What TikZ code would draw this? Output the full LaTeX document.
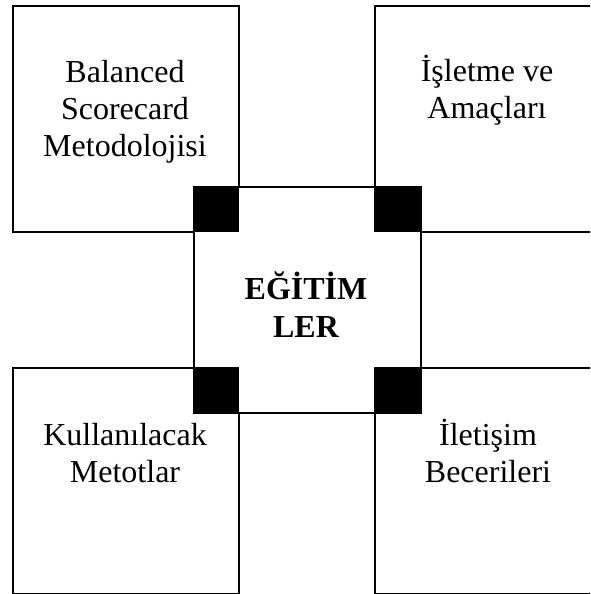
\documentclass[tikz,border=0pt]{standalone}
\usepackage{fontspec}
\setmainfont{Liberation Serif}
\begin{document}
\begin{tikzpicture}[x=1pt,y=-1pt,
  box/.style={draw, line width=1.8pt, minimum width=226pt, minimum height=226pt, inner sep=0pt, anchor=north west},
  corner/.style={fill=black, minimum width=46pt, minimum height=46pt, inner sep=0pt, anchor=north west},
  lbl/.style={align=center, inner sep=0pt, font=\fontsize{32}{37}\selectfont, anchor=base}]
\useasboundingbox (0,0) rectangle (590,594);
\clip (0,0) rectangle (590,594);
\node[box] (tl) at (12,5) {};
\node[box] (tr) at (374,5) {};
\node[box] (bl) at (12,367) {};
\node[box] (br) at (374,367) {};
\node[box, fill=white, minimum width=227pt] (c) at (193,186) {};
\node[corner] (ctl) at (193,186) {};
\node[corner] (ctr) at (374,186) {};
\node[corner] (cbl) at (193,367) {};
\node[corner] (cbr) at (374,367) {};
\node[lbl] (ttl) at (125,156) {Balanced\\Scorecard\\Metodolojisi};
\node[lbl] (ttr) at (487,118) {İşletme ve\\Amaçları};
\node[lbl] (tbl) at (125,482) {Kullanılacak\\Metotlar};
\node[lbl] (tbr) at (488,482) {İletişim\\Becerileri};
\node[lbl, font=\fontsize{32}{38}\selectfont\bfseries] (tc) at (306,337) {EĞİTİM\\LER};
\end{tikzpicture}
\end{document}
